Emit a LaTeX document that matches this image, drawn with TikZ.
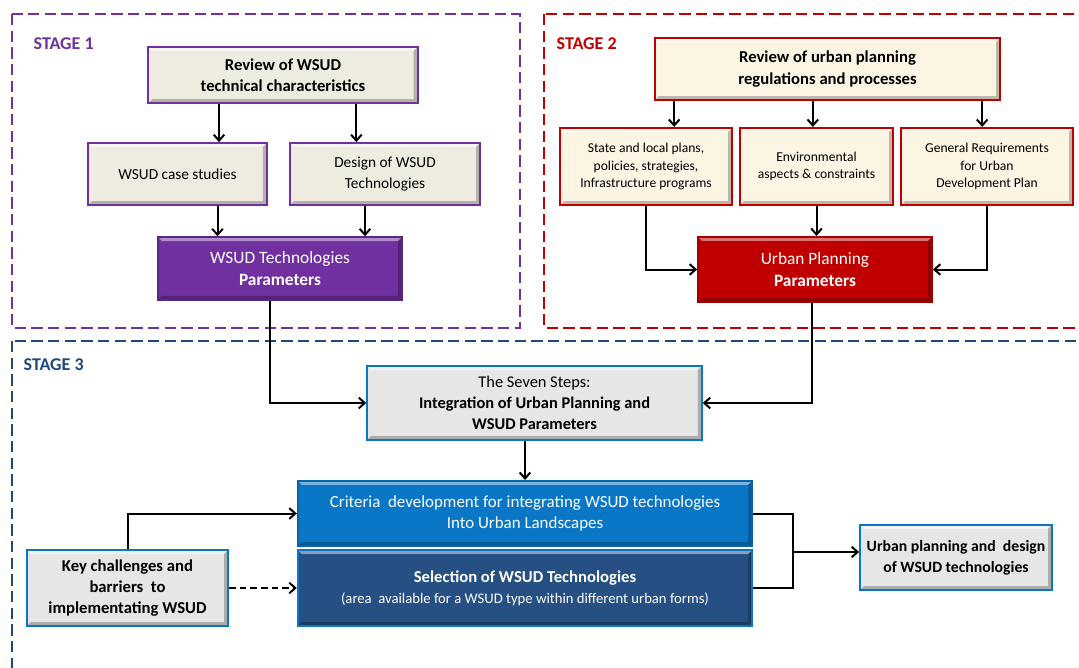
\documentclass[tikz,border=0pt]{standalone}
\usepackage{fontspec}
\setmainfont{Carlito}
\usepackage{xcolor}
\usepackage{tikz}
\usetikzlibrary{arrows.meta}
\definecolor{stageone}{HTML}{7030A0}
\definecolor{stagetwo}{HTML}{C00000}
\definecolor{stagethree}{HTML}{1F497D}
\definecolor{tanfill}{HTML}{EEECE1}
\definecolor{creamfill}{HTML}{FDF5E4}
\definecolor{grayfill}{HTML}{E6E6E6}
\definecolor{lightblue}{HTML}{0A76C6}
\definecolor{darkblue}{HTML}{264F84}
\tikzstyle{bevel} = [path picture={
		\fill [white, opacity=0.45] (path picture bounding box.north west) -- (path picture bounding box.north east) -- ([shift={(-3pt,-3pt)}]path picture bounding box.north east) -- ([shift={(3pt,-3pt)}]path picture bounding box.north west) -- cycle;
		\fill [black, opacity=0.25] (path picture bounding box.south west) -- (path picture bounding box.south east) -- (path picture bounding box.north east) -- ([shift={(-3pt,-3pt)}]path picture bounding box.north east) -- ([shift={(-3pt,3pt)}]path picture bounding box.south east) -- ([shift={(3pt,3pt)}]path picture bounding box.south west) -- cycle;}]
\tikzstyle{box} = [rectangle, bevel, line width=1.3pt, align=center, inner sep=2pt, text=black]
\tikzstyle{tanbox} = [box, draw=stageone, fill=tanfill, font=\fontsize{11.5}{15.5}\selectfont]
\tikzstyle{purplebox} = [box, draw=stageone!80!black, fill=stageone, text=white, font=\fontsize{13}{16}\selectfont]
\tikzstyle{creambox} = [box, draw=stagetwo, fill=creamfill, font=\fontsize{10.2}{13}\selectfont]
\tikzstyle{redbox} = [box, draw=stagetwo!85!black, fill=stagetwo, text=white, font=\fontsize{13}{16}\selectfont]
\tikzstyle{graybox} = [box, draw=lightblue, fill=grayfill, font=\fontsize{12.3}{15.5}\selectfont\bfseries]
\tikzstyle{bluebox} = [box, draw=lightblue!85!black, fill=lightblue, text=white, font=\fontsize{12.7}{16}\selectfont]
\tikzstyle{navybox} = [box, draw=lightblue, fill=darkblue, text=white, font=\fontsize{12.5}{16}\selectfont]
\tikzstyle{stagelabel} = [anchor=west, font=\fontsize{13.5}{15}\selectfont\bfseries]
\tikzstyle{frame} = [line width=1.8pt, dash pattern=on 8.5pt off 4pt]
\tikzstyle{arrow} = [line width=1.5pt,->,>={Straight Barb[length=4.5pt,width=8pt]}]

\begin{document}
\begin{tikzpicture}[x=0.75pt, y=-0.75pt]
		\clip (0,0) rectangle (1079,668);
		
		% Stage frames
		\draw [frame, draw=stageone] (12,14) rectangle (520,328);
		\draw [frame, draw=stagetwo] (544,14) rectangle (1095,328);
		\draw [frame, draw=stagethree, line width=1.4pt] (12,341) rectangle (1095,690);
		\node (stagea) [stagelabel, text=stageone] at (29,44) {STAGE 1};
		\node (stageb) [stagelabel, text=stagetwo] at (552,44) {STAGE 2};
		\node (stagec) [stagelabel, text=stagethree] at (19,365) {STAGE 3};
		
		% Nodes for stage 1
		\node (reviewwsud) [tanbox, minimum width=202pt, minimum height=42pt, font=\fontsize{12.5}{15.5}\selectfont\bfseries] at (283,75) {Review of WSUD\\technical characteristics};
		\node (casestudies) [tanbox, minimum width=134pt, minimum height=46.5pt] at (177.5,174) {WSUD case studies};
		\node (designwsud) [tanbox, minimum width=142.5pt, minimum height=46.5pt] at (385,174) {Design of WSUD\\Technologies};
		\node (wsudparams) [purplebox, minimum width=183pt, minimum height=47pt] at (280,268.5) {WSUD Technologies\\\textbf{Parameters}};
		
		% Nodes for stage 2
		\node (reviewurban) [creambox, minimum width=259pt, minimum height=46.5pt, font=\fontsize{12.5}{16}\selectfont\bfseries] at (827.5,69) {Review of urban planning\\regulations and processes};
		\node (stateplans) [creambox, minimum width=129pt, minimum height=58pt] at (646,166.5) {State and local plans,\\policies, strategies,\\Infrastructure programs};
		\node (environment) [creambox, minimum width=115pt, minimum height=58pt] at (816.5,166.5) {Environmental\\aspects \& constraints};
		\node (generalreq) [creambox, minimum width=129pt, minimum height=58pt] at (987,166.5) {General Requirements\\for Urban\\Development Plan};
		\node (urbanparams) [redbox, minimum width=175.5pt, minimum height=49pt] at (815,269.5) {Urban Planning\\\textbf{Parameters}};
		
		% Nodes for stage 3
		\node (sevensteps) [graybox, minimum width=251pt, minimum height=55.5pt] at (534.5,403) {\mdseries The Seven Steps:\\Integration of Urban Planning and\\WSUD Parameters};
		\node (criteria) [bluebox, minimum width=341pt, minimum height=49pt] at (525,513.5) {Criteria\ \ development for integrating WSUD technologies\\Into Urban Landscapes};
		\node (selection) [navybox, minimum width=341pt, minimum height=57pt] at (525,588) {\textbf{Selection of WSUD Technologies}\\{\fontsize{11}{14}\selectfont (area\ \ available for a WSUD type within different urban forms)}};
		\node (challenges) [graybox, minimum width=151pt, minimum height=57pt, font=\fontsize{12.5}{16}\selectfont\bfseries] at (127.5,588) {Key challenges and\\barriers\ \ to\\implementating WSUD};
		\node (urbandesign) [graybox, minimum width=144pt, minimum height=49pt, font=\fontsize{11.8}{15.5}\selectfont\bfseries] at (956,557.5) {Urban planning and\ \ design\\of WSUD technologies};
		\coordinate (join) at (793,552);
		
		% Arrows for stage 1
		\draw [arrow] ([xshift=-48pt]reviewwsud.south) -- ([xshift=-48pt]reviewwsud.south |- casestudies.north);
		\draw [arrow] ([xshift=55pt]reviewwsud.south) -- ([xshift=55pt]reviewwsud.south |- designwsud.north);
		\draw [arrow] ([xshift=30pt]casestudies.south) -- ([xshift=30pt]casestudies.south |- wsudparams.north);
		\draw [arrow] ([xshift=-15pt]designwsud.south) -- ([xshift=-15pt]designwsud.south |- wsudparams.north);
		
		% Arrows for stage 2
		\draw [arrow] ([xshift=-115pt]reviewurban.south) -- ([xshift=-115pt]reviewurban.south |- stateplans.north);
		\draw [arrow] ([xshift=-11pt]reviewurban.south) -- ([xshift=-11pt]reviewurban.south |- environment.north);
		\draw [arrow] ([xshift=116pt]reviewurban.south) -- ([xshift=116pt]reviewurban.south |- generalreq.north);
		\draw [arrow] (stateplans.south) |- (urbanparams.west);
		\draw [arrow] (environment.south) -- (environment.south |- urbanparams.north);
		\draw [arrow] (generalreq.south) |- (urbanparams.east);
		
		% Arrows into stage 3
		\draw [arrow] ([xshift=-7.5pt]wsudparams.south) |- (sevensteps.west);
		\draw [arrow] ([xshift=-2pt]urbanparams.south) |- (sevensteps.east);
		\draw [arrow] (sevensteps.south -| criteria.north) -- (criteria.north);
		\draw [arrow] (challenges.north) |- (criteria.west);
		\draw [arrow, dash pattern=on 5pt off 3pt] (challenges.east) -- (selection.west);
		\draw [line width=1.5pt] (criteria.east) -| (join) |- (selection.east);
		\draw [arrow] (join) -- (join -| urbandesign.west);
		
	\end{tikzpicture}
\end{document}
